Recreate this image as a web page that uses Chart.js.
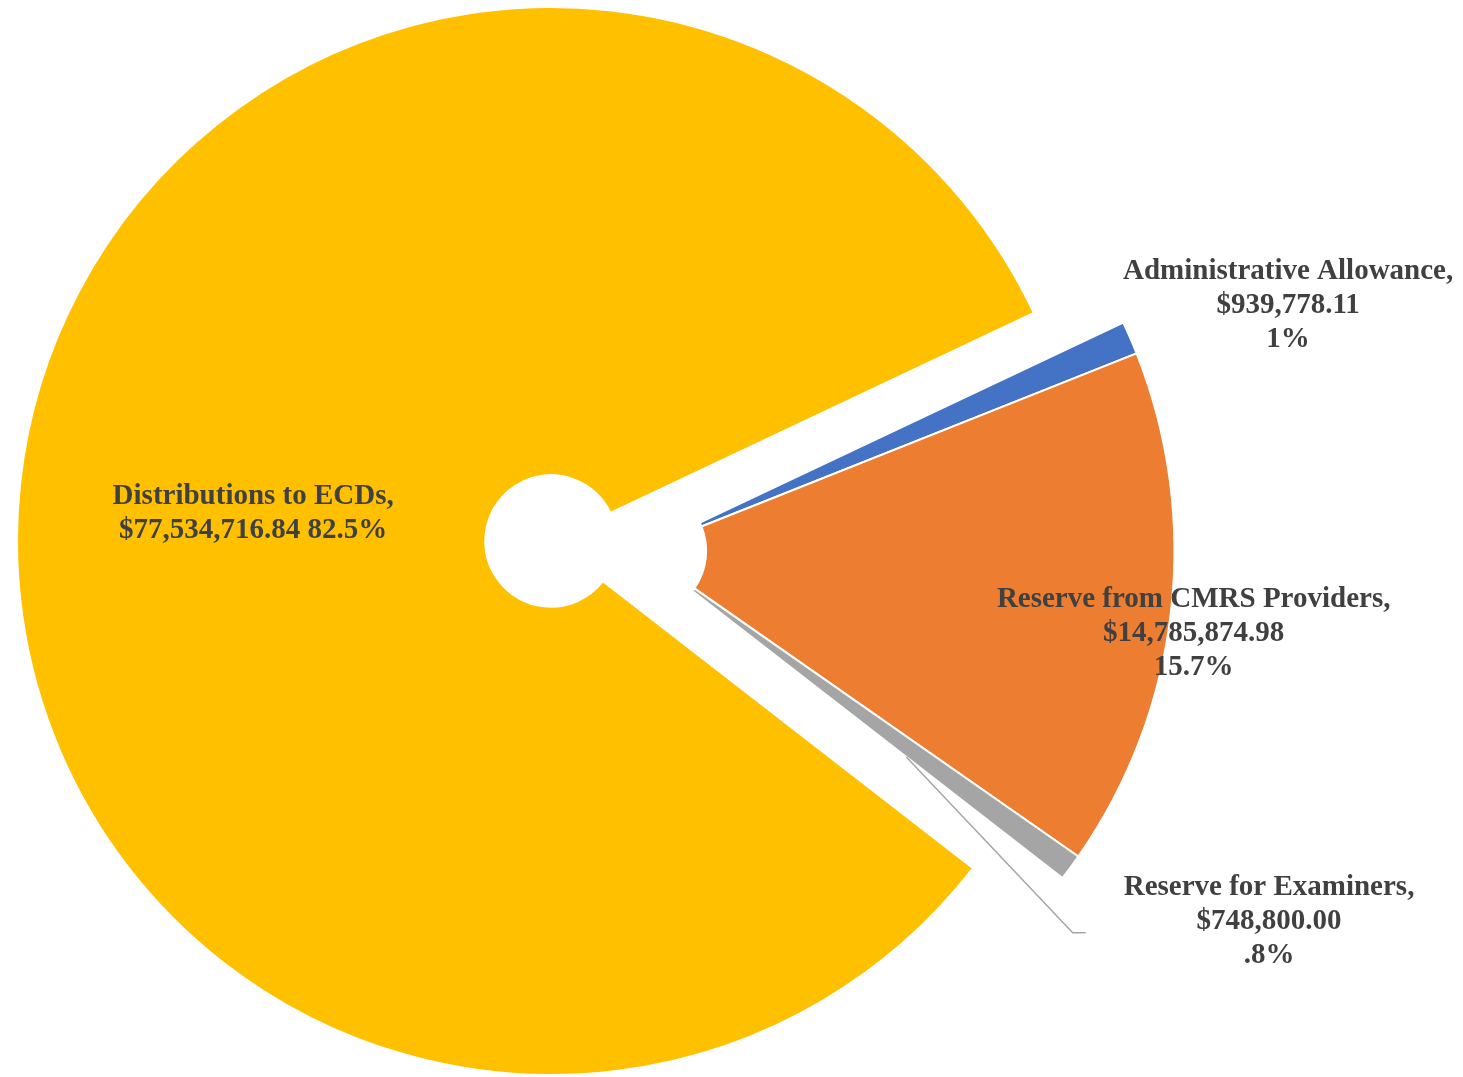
<!DOCTYPE html>
<html>
<head>
<meta charset="utf-8">
<title>Fund Distribution</title>
<script src="https://cdn.jsdelivr.net/npm/chart.js@4.4.1/dist/chart.umd.min.js"></script>
<style>
  html, body { margin: 0; padding: 0; background: #fff; }
  canvas { display: block; }
</style>
</head>
<body>
<canvas id="chart" width="1463" height="1077"></canvas>
<script>
const categories = ['Administrative Allowance', 'Reserve from CMRS Providers', 'Reserve for Examiners', 'Distributions to ECDs'];
const amounts = [939778.11, 14785874.98, 748800.00, 77534716.84];
const sliceColors = ['#4472C4', '#ED7D31', '#A5A5A5', '#FFC000'];

// slices pulled out of the pie together, as one block
const pulledOut = ['Administrative Allowance', 'Reserve from CMRS Providers', 'Reserve for Examiners'];
const PULL = 90;

// label spot: k = fraction of outer radius along the slice bisector, nudge in degrees
const labelPlacement = {
  'Administrative Allowance':    { k: 1.30,  nudge: 2.4 },
  'Reserve from CMRS Providers': { k: 1.046, nudge: 1.35 },
  'Reserve for Examiners':       { k: 1.362, nudge: -6.15, leader: 0.63 },
  'Distributions to ECDs':       { k: 0.561, nudge: 0, oneLine: true }
};

const LABEL_FONT = 'bold 29px "Liberation Serif", "Times New Roman", serif';
const LINE_H = 34;
const TEXT_DROP = 5;

const total = amounts.reduce((a, b) => a + b, 0);
const money = v => '$' + v.toLocaleString('en-US', { minimumFractionDigits: 2, maximumFractionDigits: 2 });
const percent = v => (v / total * 100).toFixed(1).replace(/\.0$/, '').replace(/^0\./, '.') + '%';

const explodeGroup = {
  id: 'explodeGroup',
  afterDatasetUpdate(chart, args) {
    const arcs = args.meta.data;
    const idx = categories.map((c, i) => pulledOut.includes(c) ? i : -1).filter(i => i >= 0);
    const start = Math.min(...idx.map(i => arcs[i].startAngle));
    const end = Math.max(...idx.map(i => arcs[i].endAngle));
    const mid = (start + end) / 2;
    idx.forEach(i => {
      arcs[i].x += Math.cos(mid) * PULL;
      arcs[i].y += Math.sin(mid) * PULL;
    });
  }
};

const sliceLabels = {
  id: 'sliceLabels',
  afterDatasetsDraw(chart) {
    const ctx = chart.ctx;
    const arcs = chart.getDatasetMeta(0).data;
    ctx.save();
    ctx.font = LABEL_FONT;
    ctx.textAlign = 'center';
    ctx.textBaseline = 'middle';
    arcs.forEach((arc, i) => {
      const place = labelPlacement[categories[i]];
      const ang = (arc.startAngle + arc.endAngle) / 2 + place.nudge * Math.PI / 180;
      const r = arc.outerRadius * place.k;
      const cx = arc.x + Math.cos(ang) * r;
      const cy = arc.y + Math.sin(ang) * r;
      const lines = place.oneLine
        ? [categories[i] + ',', money(amounts[i]) + ' ' + percent(amounts[i])]
        : [categories[i] + ',', money(amounts[i]), percent(amounts[i])];

      if (place.leader) {
        const widest = Math.max(...lines.map(t => ctx.measureText(t).width));
        const fromR = arc.outerRadius * place.leader;
        const x0 = arc.x + Math.cos(arc.endAngle) * fromR;
        const y0 = arc.y + Math.sin(arc.endAngle) * fromR;
        const xEnd = cx - widest / 2 - 38;
        const yEnd = cy + 16;
        ctx.beginPath();
        ctx.moveTo(x0, y0);
        ctx.lineTo(xEnd - 13, yEnd);
        ctx.lineTo(xEnd, yEnd);
        ctx.strokeStyle = '#A6A6A6';
        ctx.lineWidth = 1.5;
        ctx.stroke();
      }

      ctx.fillStyle = '#404040';
      lines.forEach((t, j) => {
        ctx.fillText(t, cx, cy + (j - (lines.length - 1) / 2) * LINE_H + TEXT_DROP);
      });
    });
    ctx.restore();
  }
};

new Chart(document.getElementById('chart'), {
  type: 'doughnut',
  data: {
    labels: categories,
    datasets: [{
      data: amounts,
      backgroundColor: sliceColors,
      borderColor: '#FFFFFF',
      borderWidth: 2,
      hoverOffset: 0,
      hoverBorderWidth: 2
    }]
  },
  options: {
    responsive: false,
    animation: false,
    events: [],
    cutout: '12.3%',
    rotation: 64.7,
    layout: { padding: { left: 16, right: 377, top: 6, bottom: 1 } },
    plugins: {
      legend: { display: false },
      tooltip: { enabled: false }
    }
  },
  plugins: [explodeGroup, sliceLabels]
});
</script>
</body>
</html>
